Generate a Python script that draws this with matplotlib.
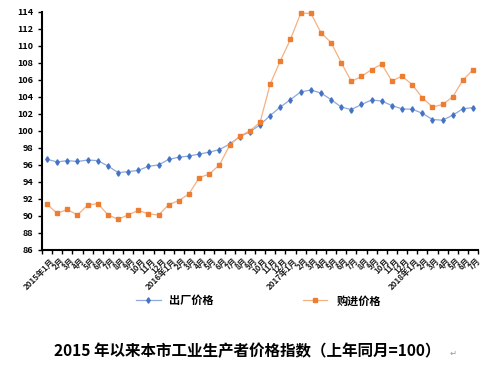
import matplotlib.pyplot as plt
import numpy as np

plt.rcParams['font.family'] = ['Noto Sans CJK SC', 'DejaVu Sans']

# month labels, 2015-1 .. 2018-7
months = []
for yr, n in [(2015, 12), (2016, 12), (2017, 12), (2018, 7)]:
    for m in range(1, n + 1):
        months.append(f"{yr}年{m}月" if m == 1 else f"{m}月")

# 出厂价格
factory = [96.65, 96.35, 96.5, 96.4, 96.57, 96.5, 95.87, 95.1, 95.2, 95.36,
           95.83, 96.0, 96.65, 96.9, 97.04, 97.27, 97.5, 97.8, 98.44, 99.3,
           99.9, 100.7, 101.8, 102.8, 103.67, 104.57, 104.8, 104.45, 103.67,
           102.8, 102.5, 103.1, 103.63, 103.5, 102.97, 102.58, 102.54, 102.07,
           101.33, 101.25, 101.84, 102.6, 102.73]
# 购进价格
purchase = [91.38, 90.3, 90.76, 90.1, 91.27, 91.46, 90.14, 89.6, 90.14, 90.64,
            90.25, 90.1, 91.34, 91.8, 92.6, 94.5, 94.93, 96.0, 98.3, 99.4,
            100.0, 101.0, 105.5, 108.23, 110.76, 113.8, 113.84, 111.54, 110.37,
            108.03, 105.8, 106.4, 107.2, 107.84, 105.85, 106.44, 105.42, 103.9,
            102.8, 103.1, 104.0, 105.97, 107.18]

x = np.arange(len(months))

fig = plt.figure(figsize=(4.97, 3.66), dpi=100)
ax = fig.add_axes([0.0845, 0.317, 0.8775, 0.651])

ax.plot(x, factory, color='#8EA9DB', lw=0.9, marker='d', ms=2.8,
        mfc='#4472C4', mec='#4472C4', label='出厂价格', clip_on=False)
ax.plot(x, purchase, color='#F4B183', lw=0.9, marker='s', ms=2.8,
        mfc='#ED7D31', mec='#ED7D31', label='购进价格', clip_on=False)

ax.set_ylim(86, 114)
ax.set_yticks(np.arange(86, 115, 2))
ax.set_xlim(-0.5, len(months) - 0.5)
ax.set_xticks(np.arange(-0.5, len(months), 1))
ax.set_xticklabels([])
ax.tick_params(axis='x', length=3, width=1, direction='out')
ax.tick_params(axis='y', length=3, width=1, direction='out', labelsize=6.5)
for t in ax.get_yticklabels():
    t.set_fontweight('bold')
for i, lab in enumerate(months):
    ax.text(i + 0.3, 85.2, lab, rotation=45, ha='right', va='top',
            rotation_mode='anchor', fontsize=5.8, fontweight='bold',
            color='#222222', transform=ax.transData)

for s in ['top', 'right']:
    ax.spines[s].set_visible(False)
for s in ['left', 'bottom']:
    ax.spines[s].set_linewidth(1.5)

fig.legend(loc='center', bbox_to_anchor=(0.52, 0.178), ncol=2, frameon=False,
           prop={'weight': 'bold', 'size': 8}, columnspacing=8,
           handlelength=2.2)

fig.text(0.497, 0.02, '2015 年以来本市工业生产者价格指数（上年同月=100）',
         ha='center', va='bottom', fontsize=11.2, fontweight='bold')
fig.text(0.905, 0.022, '↵', ha='left', va='bottom', fontsize=6,
         color='#999999', family='DejaVu Sans')

fig.savefig('out.png', dpi=100)
